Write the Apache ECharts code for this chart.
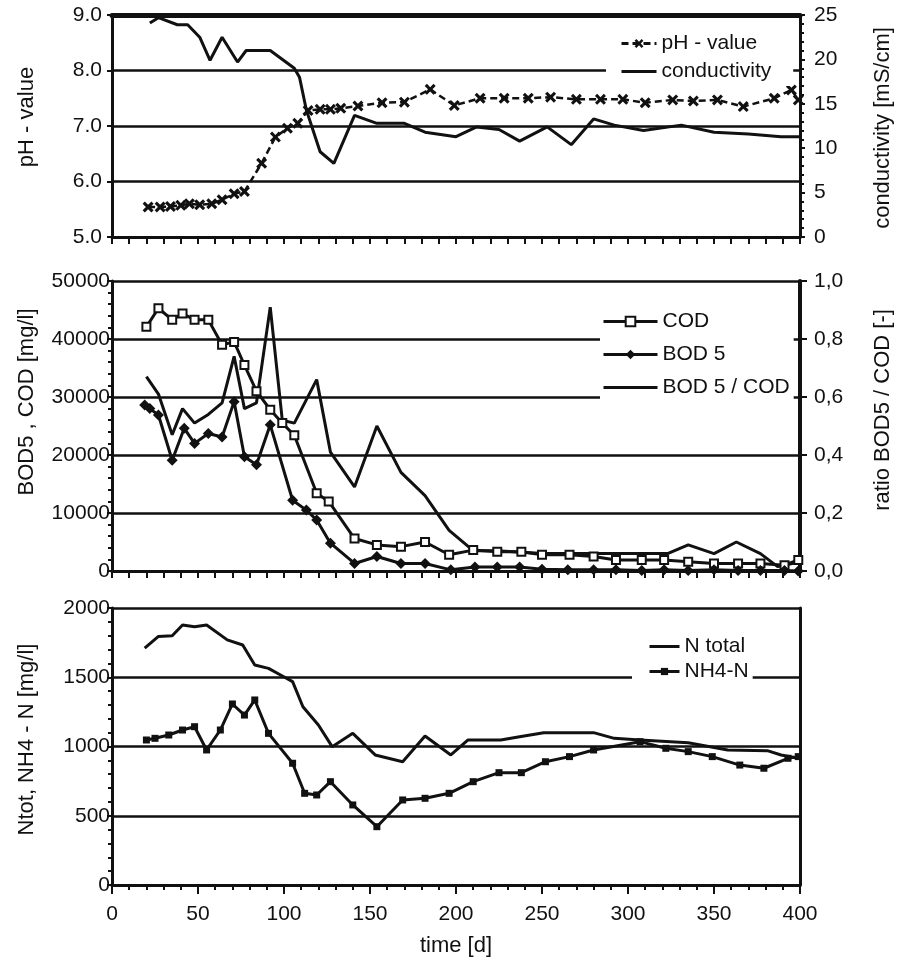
<!DOCTYPE html>
<html><head><meta charset="utf-8">
<script src="https://cdn.jsdelivr.net/npm/echarts@6/dist/echarts.min.js"></script>
<style>html,body{margin:0;padding:0;background:#fff}#c{width:904px;height:963px}</style>
</head><body><div id="c"></div>
<script>
// ---- data ----
const phDays = [21,28,34,40,45,51,58,64,71,77,87,95,102,108,114,121,127,133,143,157,170,185,199,214,228,242,255,270,284,297,310,326,338,352,367,385,395,399];
const phValues = [5.54,5.54,5.55,5.57,5.6,5.58,5.6,5.67,5.78,5.82,6.33,6.8,6.96,7.05,7.28,7.3,7.3,7.32,7.36,7.42,7.43,7.66,7.37,7.5,7.5,7.5,7.52,7.48,7.48,7.48,7.42,7.47,7.45,7.47,7.35,7.5,7.65,7.47];
const condDays = [22,27,38,44,51,57,64,73,78,92,106,109,113,121,129,141,154,170,182,200,212,225,237,253,267,280,292,309,331,350,370,389,400];
const condValues = [24.1,24.7,23.9,23.9,22.5,19.9,22.5,19.7,21.0,21.0,19.0,18.0,14.3,9.6,8.3,13.7,12.8,12.8,11.8,11.3,12.4,12.1,10.8,12.4,10.4,13.3,12.6,12.0,12.6,11.8,11.6,11.3,11.3];
const codDays = [20,27,35,41,48,56,64,71,77,84,92,99,106,119,126,141,154,168,182,196,210,224,238,250,266,280,293,308,321,335,350,364,377,391,399];
const codValues = [42100,45300,43300,44400,43300,43300,39000,39500,35500,31000,27800,25500,23400,13400,12000,5600,4500,4200,5000,2800,3600,3300,3300,2800,2800,2500,1900,1900,1900,1600,1300,1300,1300,1000,1900];
const bodDays = [19,22,27,35,42,48,56,64,71,77,84,92,105,113,119,127,141,154,168,182,197,211,224,237,250,265,280,293,308,321,335,350,364,377,391,399];
const bodValues = [28600,28000,26900,19100,24600,22000,23700,23100,29200,19700,18300,25200,12200,10500,8800,4800,1300,2500,1300,1300,200,700,700,700,300,200,200,200,100,200,100,200,100,100,100,0];
const ratioDays = [20,27,35,41,48,56,64,71,77,84,92,99,106,119,127,141,154,168,182,196,210,224,238,251,266,280,294,308,323,335,350,363,377,387,399];
const ratioValues = [0.67,0.61,0.47,0.56,0.51,0.54,0.58,0.74,0.56,0.58,0.91,0.52,0.51,0.66,0.41,0.29,0.50,0.34,0.26,0.14,0.07,0.07,0.065,0.06,0.06,0.06,0.06,0.06,0.06,0.09,0.06,0.10,0.06,0.015,0.03];
const ntotDays = [19,27,35,41,48,55,67,76,83,91,98,105,111,120,128,140,153,169,182,197,207,226,237,251,280,292,307,335,358,381,389,399];
const ntotValues = [1710,1795,1800,1877,1865,1877,1770,1733,1588,1564,1516,1468,1287,1155,999,1095,939,890,1076,939,1047,1047,1071,1100,1100,1059,1047,1027,975,970,939,915];
const nh4Days = [20,25,33,41,48,55,63,70,77,83,91,105,112,119,127,140,154,169,182,196,210,225,238,252,266,280,307,322,335,349,365,379,393,399];
const nh4Values = [1047,1059,1083,1119,1143,975,1119,1307,1227,1336,1095,879,662,650,746,578,421,614,626,662,746,811,811,890,927,975,1035,987,963,927,866,843,915,927];
const timeTicks = [0,50,100,150,200,250,300,350,400];

// ---- chart ----
const FONT = '"Liberation Sans", Arial, Helvetica, sans-serif';
const K = '#111';
const pair = (xs, ys) => xs.map((x, i) => [x, ys[i]]);
const txt = (size) => ({ color: K, fontSize: size, fontFamily: FONT });
const XMARK = 'path://M0,2 L2,0 L5,3 L8,0 L10,2 L7,5 L10,8 L8,10 L5,7 L2,10 L0,8 L3,5 Z';
const plain = v => String(v);

const grids = [
  { left: 112, top: 15, width: 688, height: 222 },
  { left: 112, top: 281, width: 688, height: 290 },
  { left: 112, top: 608, width: 688, height: 277 }
];

function xAx(i) {
  return {
    type: 'value', gridIndex: i, min: timeTicks[0], max: timeTicks[timeTicks.length - 1], interval: 50,
    axisLine: { show: true, onZero: false, lineStyle: { color: K, width: 3 } },
    axisTick: { show: true, length: i === 2 ? 9 : 7, lineStyle: { color: K, width: 2 } },
    minorTick: { show: true, splitNumber: 5, length: i === 2 ? 5 : 7, lineStyle: { color: K, width: 2 } },
    axisLabel: { show: i === 2, margin: 19, formatter: plain, ...txt(21) },
    splitLine: { show: false },
    name: i === 2 ? 'time [d]' : '', nameLocation: 'middle', nameGap: 50, nameTextStyle: txt(22)
  };
}

function yAx(o) {
  return Object.assign({
    type: 'value',
    axisLine: { show: true, onZero: false, lineStyle: { color: K, width: 3 } },
    axisTick: { show: true, length: 5, lineStyle: { color: K, width: 2 } },
    minorTick: { show: false },
    splitLine: { show: false },
    nameLocation: 'middle', nameRotate: 90
  }, o);
}
const nameStyle = (shiftUp) => Object.assign(txt(22), { padding: [0, 0, 0, shiftUp * 2] });

const splitL = { show: true, lineStyle: { color: K, width: 2.5 } };
const hideSym = { opacity: 0 };

const option = {
  animation: false,
  backgroundColor: '#fff',
  grid: grids,
  xAxis: [xAx(0), xAx(1), xAx(2), {
    type: 'value', gridIndex: 0, position: 'top', min: 0, max: 400,
    axisLine: { show: true, onZero: false, lineStyle: { color: K, width: 5 } },
    axisTick: { show: false }, axisLabel: { show: false }, splitLine: { show: false }
  }],
  yAxis: [
    yAx({ gridIndex: 0, position: 'left', min: 5, max: 9, interval: 1, splitLine: splitL,
      axisLabel: { margin: 10, formatter: v => v.toFixed(1), ...txt(21) },
      name: 'pH - value', nameGap: 74, nameTextStyle: nameStyle(9) }),
    yAx({ gridIndex: 0, position: 'right', min: 0, max: 25, interval: 5,
      minorTick: { show: true, splitNumber: 5, length: 4, lineStyle: { color: K, width: 2 } },
      axisLabel: { margin: 14, formatter: plain, ...txt(21) },
      name: 'conductivity [mS/cm]', nameGap: 72, nameTextStyle: nameStyle(-2) }),
    yAx({ gridIndex: 1, position: 'left', min: 0, max: 50000, interval: 10000, splitLine: splitL,
      minorTick: { show: true, splitNumber: 5, length: 4, lineStyle: { color: K, width: 2 } },
      axisLabel: { margin: 2, formatter: plain, ...txt(21) },
      name: 'BOD5 , COD [mg/l]', nameGap: 74, nameTextStyle: nameStyle(24) }),
    yAx({ gridIndex: 1, position: 'right', min: 0, max: 1, interval: 0.2,
      axisLine: { show: true, onZero: false, lineStyle: { color: K, width: 4 } },
      axisTick: { show: true, length: 7, lineStyle: { color: K, width: 2 } },
      axisLabel: { margin: 14, formatter: v => v.toFixed(1).replace('.', ','), ...txt(21) },
      name: 'ratio BOD5 / COD [-]', nameGap: 72, nameTextStyle: nameStyle(16) }),
    yAx({ gridIndex: 2, position: 'left', min: 0, max: 2000, interval: 500, splitLine: splitL,
      minorTick: { show: true, splitNumber: 5, length: 4, lineStyle: { color: K, width: 2 } },
      axisLabel: { margin: 2, formatter: plain, ...txt(21) },
      name: 'Ntot, NH4 - N [mg/l]', nameGap: 74, nameTextStyle: nameStyle(7) }),
    yAx({ gridIndex: 2, position: 'right', min: 0, max: 2000, interval: 500,
      axisTick: { show: false }, axisLabel: { show: false } })
  ],
  legend: [
    { orient: 'vertical', left: 606, top: 29, padding: [4, 22, 4, 14], itemGap: 7, itemWidth: 35, itemHeight: 11,
      backgroundColor: '#fff', textStyle: txt(21), lineStyle: { width: 3 },
      data: [{ name: 'pH - value' }, { name: 'conductivity', itemStyle: hideSym }] },
    { orient: 'vertical', left: 600, top: 307, padding: [4, 4, 4, 2], itemGap: 12, itemWidth: 54, itemHeight: 12,
      backgroundColor: '#fff', textStyle: txt(21), lineStyle: { width: 3 },
      data: [{ name: 'COD' }, { name: 'BOD 5' }, { name: 'BOD 5 / COD', itemStyle: hideSym }] },
    { orient: 'vertical', left: 632, top: 632, padding: [4, 4, 4, 16], itemGap: 4, itemWidth: 30, itemHeight: 9,
      backgroundColor: '#fff', textStyle: txt(21), lineStyle: { width: 3 },
      data: [{ name: 'N total', itemStyle: hideSym }, { name: 'NH4-N' }] }
  ],
  series: [
    { name: 'pH - value', type: 'line', xAxisIndex: 0, yAxisIndex: 0, data: pair(phDays, phValues),
      symbol: XMARK, symbolSize: 11, lineStyle: { color: K, width: 2.5, type: [7, 4] }, itemStyle: { color: K } },
    { name: 'conductivity', type: 'line', xAxisIndex: 0, yAxisIndex: 1, data: pair(condDays, condValues),
      symbol: 'none', lineStyle: { color: K, width: 3 }, itemStyle: { color: K } },
    { name: 'COD', type: 'line', xAxisIndex: 1, yAxisIndex: 2, data: pair(codDays, codValues),
      symbol: 'rect', symbolSize: 8, lineStyle: { color: K, width: 3 }, itemStyle: { color: '#fff', borderColor: K, borderWidth: 2 } },
    { name: 'BOD 5', type: 'line', xAxisIndex: 1, yAxisIndex: 2, data: pair(bodDays, bodValues),
      symbol: 'diamond', symbolSize: 11, lineStyle: { color: K, width: 3 }, itemStyle: { color: K } },
    { name: 'BOD 5 / COD', type: 'line', xAxisIndex: 1, yAxisIndex: 3, data: pair(ratioDays, ratioValues),
      symbol: 'none', lineStyle: { color: K, width: 3 }, itemStyle: { color: K } },
    { name: 'N total', type: 'line', xAxisIndex: 2, yAxisIndex: 4, data: pair(ntotDays, ntotValues),
      symbol: 'none', lineStyle: { color: K, width: 3 }, itemStyle: { color: K } },
    { name: 'NH4-N', type: 'line', xAxisIndex: 2, yAxisIndex: 4, data: pair(nh4Days, nh4Values),
      symbol: 'rect', symbolSize: 7, lineStyle: { color: K, width: 3 }, itemStyle: { color: K } }
  ]
};
const chart = echarts.init(document.getElementById('c'), null, { renderer: 'canvas' });
chart.setOption(option);
</script>
</body></html>
